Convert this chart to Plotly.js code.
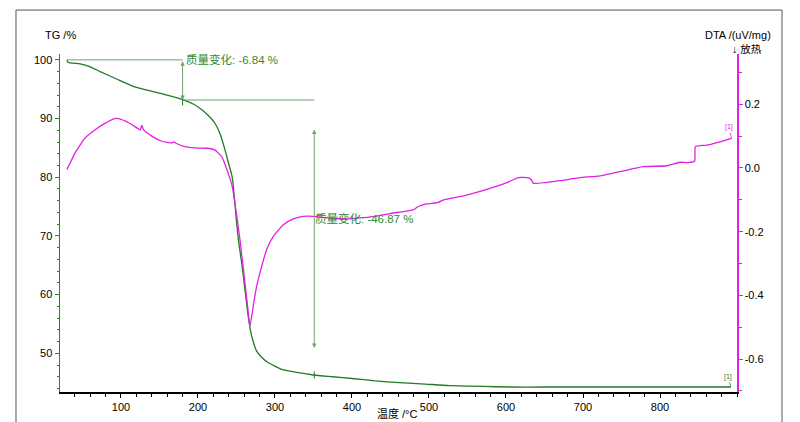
<!DOCTYPE html>
<html>
<head>
<meta charset="utf-8">
<script src="https://cdn.plot.ly/plotly-3.0.1.min.js"></script>
<style>html,body{margin:0;padding:0;background:#fff;}#chart{width:800px;height:422px;}</style>
</head>
<body>
<div id="chart"></div>
<script>
// TG curve (temperature °C, mass %)
const tgTemp = [30,31,47,60,73,95,116,138,160,181,195,205,215,222,229,235,240,244,246,250,253,257,261,265,268,271,276,282,290,300,310,330,350,375,400,430,462,495,527,570,605,650,700,750,800,850,892];
const tgMass = [100.0,99.6,99.3,98.8,98.0,96.7,95.5,94.7,94.0,93.2,92.4,91.5,90.3,89.2,87.3,84.7,82.2,80.3,78.3,72.5,68.8,65.2,60.8,56.5,54.0,52.3,50.4,49.4,48.5,47.8,47.2,46.7,46.3,46.0,45.7,45.3,45.0,44.75,44.5,44.35,44.25,44.25,44.25,44.25,44.25,44.25,44.25];

// DTA curve (temperature °C, uV/mg)
const dtaTemp = [30,31,34,40,53,66,79,92,97,110,122,125,127,129,140,153,166,169,172,183,196,213,222,231,244,248,254.5,261,265.3,267.5,271.8,276.2,282.7,289.2,297.8,310.8,323.8,336.8,349.7,371,393,415,430,449,467,480,486,497,512,519,545,575,601,616,629,633,635.5,653,670,683,696,722,748,778,809,826,837,845,846,861,878,893];
const dtaVal = [-0.005,0.002,0.015,0.046,0.093,0.119,0.140,0.155,0.155,0.142,0.124,0.120,0.134,0.121,0.100,0.084,0.079,0.082,0.077,0.067,0.063,0.062,0.056,0.035,-0.053,-0.110,-0.225,-0.360,-0.454,-0.496,-0.433,-0.371,-0.309,-0.256,-0.215,-0.178,-0.160,-0.152,-0.152,-0.157,-0.160,-0.156,-0.152,-0.143,-0.137,-0.131,-0.121,-0.113,-0.108,-0.100,-0.0875,-0.067,-0.046,-0.030,-0.031,-0.037,-0.048,-0.045,-0.040,-0.035,-0.030,-0.025,-0.0115,0.004,0.007,0.018,0.017,0.022,0.067,0.072,0.082,0.093];

// Mass-change evaluation steps
const stepStartTemp = 30;
const stepTemps = [180, 351];
const massStart = 100;
const massChanges = [-6.84, -46.87];
const stepLabels = ["质量变化: -6.84 %", "质量变化: -46.87 %"];
const arrow2Range = [88.4, 50.9];

const xTickVals = [100,200,300,400,500,600,700,800];
const tgTickVals = [50,60,70,80,90,100];
const dtaTickVals = [-0.6,-0.4,-0.2,0.0,0.2];

const green = '#237a23';
const annGreen = '#2f8a2f';
const guideGreen = '#6fa56f';
const magenta = '#e31fe3';
const font = 'Liberation Sans, Arial, sans-serif';
const cjk = 'Liberation Sans, Noto Sans CJK SC, sans-serif';

const level1 = massStart + massChanges[0];
const level2 = level1 + massChanges[1];

const traces = [
  {x: dtaTemp, y: dtaVal, type: 'scatter', mode: 'lines', yaxis: 'y2',
   line: {color: magenta, width: 1.3, shape: 'spline', smoothing: 0.5}, hoverinfo: 'skip'},
  {x: tgTemp, y: tgMass, type: 'scatter', mode: 'lines', yaxis: 'y',
   line: {color: green, width: 1.3, shape: 'spline', smoothing: 0.6}, hoverinfo: 'skip'}
];

const shapes = [
  // outer frame
  {type: 'rect', xref: 'paper', yref: 'paper', x0: -0.065, x1: 1.0665, y0: -0.13, y1: 1.130,
   line: {color: '#555', width: 1}, fillcolor: 'rgba(0,0,0,0)'},
  // reference lines
  {type: 'line', xref: 'x', yref: 'y', x0: stepStartTemp, x1: stepTemps[0], y0: massStart, y1: massStart,
   line: {color: guideGreen, width: 1}},
  {type: 'line', xref: 'x', yref: 'y', x0: stepTemps[0], x1: stepTemps[1], y0: level1, y1: level1,
   line: {color: guideGreen, width: 1}},
  // small ticks on the curve
  {type: 'line', xref: 'x', yref: 'y', x0: stepTemps[0], x1: stepTemps[0], y0: level1 + 0.6, y1: level1 - 0.9,
   line: {color: green, width: 1}},
  {type: 'line', xref: 'x', yref: 'y', x0: stepTemps[1], x1: stepTemps[1], y0: level2 + 0.6, y1: level2 - 0.6,
   line: {color: green, width: 1}}
];

function arrowAnn(xv, y0, y1) {
  return {x: xv, y: y1, ax: xv, ay: y0, xref: 'x', yref: 'y', axref: 'x', ayref: 'y',
    text: '', showarrow: true, arrowhead: 2, arrowside: 'end+start', arrowsize: 0.9,
    arrowwidth: 1, arrowcolor: guideGreen, standoff: 0, startstandoff: 0};
}

const annotations = [
  arrowAnn(stepTemps[0], massStart, level1),
  arrowAnn(stepTemps[1], arrow2Range[0], arrow2Range[1]),
  {x: stepTemps[0], y: massStart, xref: 'x', yref: 'y', text: stepLabels[0], showarrow: false,
   xanchor: 'left', yanchor: 'middle', xshift: 1, font: {family: cjk, size: 11.5, color: annGreen}},
  {x: stepTemps[1], y: 73.0, xref: 'x', yref: 'y', text: stepLabels[1], showarrow: false,
   xanchor: 'left', yanchor: 'middle', xshift: -1, font: {family: cjk, size: 11.5, color: annGreen}},
  {xref: 'paper', yref: 'paper', x: -0.0251, y: 1.056, text: 'TG /%', showarrow: false,
   xanchor: 'left', yanchor: 'middle', font: {family: font, size: 11, color: '#000'}},
  {xref: 'paper', yref: 'paper', x: 1.0532, y: 1.056, text: 'DTA /(uV/mg)', showarrow: false,
   xanchor: 'right', yanchor: 'middle', font: {family: font, size: 11, color: '#000'}},
  {xref: 'paper', yref: 'paper', x: 0.9897, y: 1.014, text: '↓ 放热', showarrow: false,
   xanchor: 'left', yanchor: 'middle', font: {family: cjk, size: 10.5, color: '#000'}},
  {xref: 'paper', yref: 'paper', x: 0.499, y: -0.065, text: '温度 /°C', showarrow: false,
   xanchor: 'center', yanchor: 'middle', font: {family: cjk, size: 11, color: '#000'}},
  {x: tgTemp[tgTemp.length - 1], y: tgMass[tgMass.length - 1], xref: 'x', yref: 'y', text: '[1]',
   showarrow: true, arrowhead: 0, arrowwidth: 0.8, arrowcolor: green, ax: -3, ay: -10, standoff: 0,
   font: {family: font, size: 7, color: green}},
  {x: dtaTemp[dtaTemp.length - 1], y: dtaVal[dtaVal.length - 1], xref: 'x', yref: 'y2', text: '[1]',
   showarrow: true, arrowhead: 0, arrowwidth: 0.8, arrowcolor: magenta, ax: -3, ay: -11, standoff: 0,
   font: {family: font, size: 7, color: magenta}}
];

const layout = {
  width: 800, height: 422,
  margin: {l: 60, r: 63, t: 54, b: 30, pad: 0},
  paper_bgcolor: '#fff', plot_bgcolor: '#fff',
  showlegend: false,
  font: {family: font, size: 11, color: '#000'},
  xaxis: {range: [20.8, 900], tickvals: xTickVals, ticks: 'outside', ticklen: 4, tickcolor: '#000',
    showline: true, linecolor: '#000', linewidth: 1.5, showgrid: false, zeroline: false,
    tickfont: {family: font, size: 11, color: '#000'},
    minor: {dtick: 20, tick0: 0, ticks: 'outside', ticklen: 3, tickcolor: '#000', showgrid: false}},
  yaxis: {range: [43.4, 101.0], tickvals: tgTickVals, ticks: 'outside', ticklen: 4, tickcolor: '#00a000',
    showline: true, linecolor: '#00a000', linewidth: 1.5, showgrid: false, zeroline: false,
    tickfont: {family: font, size: 11, color: '#000'},
    minor: {dtick: 2, tick0: 0, ticks: 'outside', ticklen: 2, tickcolor: '#00a000', showgrid: false}},
  yaxis2: {range: [-0.7035, 0.358], overlaying: 'y', side: 'right', anchor: 'x',
    tickvals: dtaTickVals, ticktext: ['-0.6','-0.4','-0.2','0.0','0.2'],
    ticks: 'outside', ticklen: 4, tickcolor: magenta,
    showline: true, linecolor: magenta, linewidth: 1.5, showgrid: false, zeroline: false,
    tickfont: {family: font, size: 11, color: '#000'},
    minor: {dtick: 0.1, tick0: 0, ticks: 'outside', ticklen: 3, tickcolor: magenta, showgrid: false}},
  shapes: shapes,
  annotations: annotations
};

Plotly.newPlot('chart', traces, layout, {staticPlot: true, displayModeBar: false});
</script>
</body>
</html>
